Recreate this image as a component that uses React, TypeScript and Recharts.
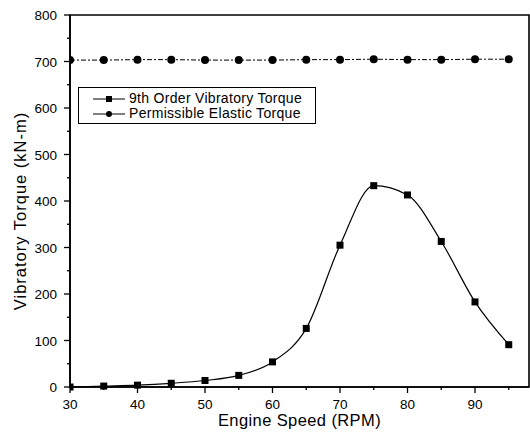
import React from "react";
import {
  ComposedChart,
  Line,
  XAxis,
  YAxis,
  ReferenceArea,
  Label,
} from "recharts";

const speeds = [30, 35, 40, 45, 50, 55, 60, 65, 70, 75, 80, 85, 90, 95];
const vibratory = [0, 2, 4, 8, 14, 25, 54, 126, 305, 433, 413, 313, 183, 91];
const permissible = [703, 703, 704, 704, 703, 703, 703, 704, 704, 705, 704, 704, 705, 705];
const xTicks = [30, 35, 40, 45, 50, 55, 60, 65, 70, 75, 80, 85, 90, 95];
const yTicks = [0, 50, 100, 150, 200, 250, 300, 350, 400, 450, 500, 550, 600, 650, 700, 750, 800];

const data = speeds.map((s, i) => ({
  rpm: s,
  vib: vibratory[i],
  perm: permissible[i],
}));

const FONT = "'Liberation Sans', Arial, sans-serif";

const Square = (props: any) => {
  const { cx, cy } = props;
  if (cx == null || cy == null) return null;
  return <rect x={cx - 3.5} y={cy - 3.5} width={7} height={7} fill="#000" />;
};

const Dot = (props: any) => {
  const { cx, cy } = props;
  if (cx == null || cy == null) return null;
  return <circle cx={cx} cy={cy} r={4} fill="#000" />;
};

const XTick = (props: any) => {
  const { x, y, payload } = props;
  const major = payload.value % 10 === 0;
  return (
    <g>
      <line x1={x} x2={x} y1={y - 8} y2={y - 8 + (major ? 6 : 3)} stroke="#000" strokeWidth={1.3} />
      {major && (
        <text x={x} y={y + 14} textAnchor="middle" fontSize={13.5} fontFamily={FONT} fill="#000">
          {payload.value}
        </text>
      )}
    </g>
  );
};

const YTick = (props: any) => {
  const { x, y, payload } = props;
  const major = payload.value % 100 === 0;
  return (
    <g>
      <line x1={x + 8} x2={x + 8 - (major ? 6 : 3)} y1={y} y2={y} stroke="#000" strokeWidth={1.3} />
      {major && (
        <text x={x - 5} y={y + 5} textAnchor="end" fontSize={13.5} fontFamily={FONT} fill="#000">
          {payload.value}
        </text>
      )}
    </g>
  );
};

const LegendBox = () => (
  <div
    style={{
      position: "absolute",
      left: 78,
      top: 87,
      border: "1px solid #000",
      width: 238,
      height: 37,
      boxSizing: "border-box",
      padding: "3px 0 0 13px",
      fontFamily: FONT,
      fontSize: 14,
      letterSpacing: 0.3,
      lineHeight: "15px",
      background: "#fff",
    }}
  >
    {[
      { name: "9th Order Vibratory Torque", shape: "square" },
      { name: "Permissible Elastic Torque", shape: "circle" },
    ].map((it) => (
      <div key={it.name} style={{ display: "flex", alignItems: "center", whiteSpace: "nowrap" }}>
        <svg width={34} height={12} style={{ marginRight: 3 }}>
          <line x1={1} x2={33} y1={6} y2={6} stroke="#000" strokeWidth={1} />
          {it.shape === "square" ? (
            <rect x={14} y={3} width={6} height={6} fill="#000" />
          ) : (
            <circle cx={17} cy={6} r={3} fill="#000" />
          )}
        </svg>
        <span>{it.name}</span>
      </div>
    ))}
  </div>
);

export default function App() {
  return (
    <div style={{ position: "absolute", left: 0, top: 0, width: 530, height: 441, background: "#fff" }}>
      <ComposedChart
        width={530}
        height={441}
        data={data}
        margin={{ top: 15, right: 1, left: 0, bottom: 0 }}
      >
        <XAxis
          dataKey="rpm"
          type="number"
          domain={[30, 98]}
          ticks={xTicks}
          interval={0}
          allowDataOverflow
          height={54}
          axisLine={{ stroke: "#000", strokeWidth: 1.6 }}
          tickLine={false}
          tick={<XTick />}
        >
          <Label
            value="Engine Speed (RPM)"
            position="insideBottom"
            offset={15}
            style={{ fontFamily: FONT, fontSize: 16.5, letterSpacing: 0.4, fill: "#000" }}
          />
        </XAxis>
        <YAxis
          type="number"
          domain={[0, 800]}
          ticks={yTicks}
          interval={0}
          width={70}
          axisLine={{ stroke: "#000", strokeWidth: 1.6 }}
          tickLine={false}
          tick={<YTick />}
        >
          <Label
            value="Vibratory Torque (kN-m)"
            angle={-90}
            position="insideLeft"
            offset={20}
            dy={10}
            style={{ fontFamily: FONT, fontSize: 16.5, letterSpacing: 1, fill: "#000", textAnchor: "middle" }}
          />
        </YAxis>
        <ReferenceArea
          x1={30}
          x2={98}
          y1={0}
          y2={800}
          fill="none"
          stroke="#000"
          strokeWidth={1.6}
          ifOverflow="visible"
        />
        <Line
          dataKey="perm"
          type="linear"
          stroke="#000"
          strokeWidth={1}
          strokeDasharray="5 2 2 2"
          dot={<Dot />}
          isAnimationActive={false}
        />
        <Line
          dataKey="vib"
          type="monotone"
          stroke="#000"
          strokeWidth={1.2}
          dot={<Square />}
          isAnimationActive={false}
        />
      </ComposedChart>
      <LegendBox />
    </div>
  );
}
